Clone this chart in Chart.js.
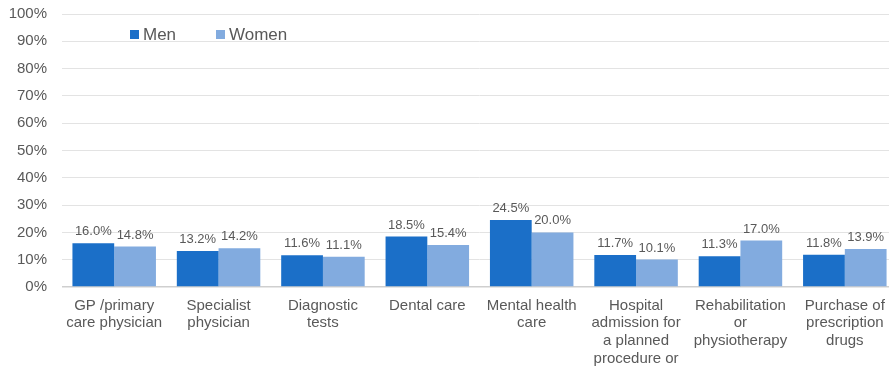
<!DOCTYPE html>
<html>
<head>
<meta charset="utf-8">
<script src="https://cdn.jsdelivr.net/npm/chart.js@4"></script>
<style>
  html, body { margin: 0; padding: 0; background: #fff; overflow: hidden; }
  #wrap { width: 897px; height: 380px; margin-top: -10px; }
</style>
</head>
<body>
<div id="wrap"><canvas id="chart"></canvas></div>
<script>
const categories = [
    ['GP /primary', 'care physician'],
    ['Specialist', 'physician'],
    ['Diagnostic', 'tests'],
    ['Dental care'],
    ['Mental health', 'care'],
    ['Hospital', 'admission for', 'a planned', 'procedure or'],
    ['Rehabilitation', 'or', 'physiotherapy'],
    ['Purchase of', 'prescription', 'drugs']
];
const men = [16.0, 13.2, 11.6, 18.5, 24.5, 11.7, 11.3, 11.8];
const women = [14.8, 14.2, 11.1, 15.4, 20.0, 10.1, 17.0, 13.9];
const yTicks = [0, 10, 20, 30, 40, 50, 60, 70, 80, 90, 100];

const textColor = '#595959';
const font = 'Liberation Sans, Arial, sans-serif';

// value labels above each bar
const barLabels = {
    id: 'barLabels',
    afterDatasetsDraw(chart) {
        const ctx = chart.ctx;
        ctx.save();
        ctx.font = '13px ' + font;
        ctx.fillStyle = textColor;
        ctx.textAlign = 'center';
        ctx.textBaseline = 'bottom';
        chart.data.datasets.forEach((ds, i) => {
            chart.getDatasetMeta(i).data.forEach((bar, j) => {
                ctx.fillText(ds.data[j].toFixed(1) + '%', bar.x, bar.y - 5);
            });
        });
        ctx.restore();
    }
};

// legend drawn inside the plot area, top left
const innerLegend = {
    id: 'innerLegend',
    afterDraw(chart) {
        const ctx = chart.ctx;
        const top = chart.chartArea.top;
        const spots = [130, 216];
        ctx.save();
        ctx.font = '17px ' + font;
        ctx.textBaseline = 'middle';
        chart.data.datasets.forEach((ds, i) => {
            ctx.fillStyle = ds.backgroundColor;
            ctx.fillRect(spots[i], top + 16, 9, 9);
            ctx.fillStyle = textColor;
            ctx.fillText(ds.label, spots[i] + 13, top + 21);
        });
        ctx.restore();
    }
};

new Chart(document.getElementById('chart'), {
    type: 'bar',
    data: {
        labels: categories,
        datasets: [
            { label: 'Men', data: men, backgroundColor: '#1b6fc8' },
            { label: 'Women', data: women, backgroundColor: '#82abdf' }
        ]
    },
    options: {
        responsive: true,
        maintainAspectRatio: false,
        animation: false,
        layout: { padding: { left: 0, right: 0, top: 3, bottom: 0 } },
        datasets: { bar: { categoryPercentage: 0.8, barPercentage: 1.0 } },
        plugins: {
            legend: { display: false },
            tooltip: { enabled: false }
        },
        scales: {
            x: {
                grid: { display: false, drawTicks: false },
                border: { display: false },
                afterFit: s => { s.height = 83; },
                ticks: {
                    color: textColor,
                    font: { family: font, size: 15, lineHeight: 1.17 },
                    padding: 10,
                    maxRotation: 0,
                    autoSkip: false
                }
            },
            y: {
                min: 0,
                max: 100,
                afterBuildTicks: axis => { axis.ticks = yTicks.map(v => ({ value: v })); },
                afterFit: s => { s.width = 62; },
                grid: {
                    color: c => c.tick.value === 0 ? '#cfcfcf' : '#e3e3e3',
                    lineWidth: c => c.tick.value === 0 ? 1.5 : 1,
                    drawTicks: false
                },
                border: { display: false },
                ticks: {
                    color: textColor,
                    font: { family: font, size: 15 },
                    padding: 15,
                    callback: v => v + '%'
                }
            }
        }
    },
    plugins: [barLabels, innerLegend]
});
</script>
</body>
</html>
